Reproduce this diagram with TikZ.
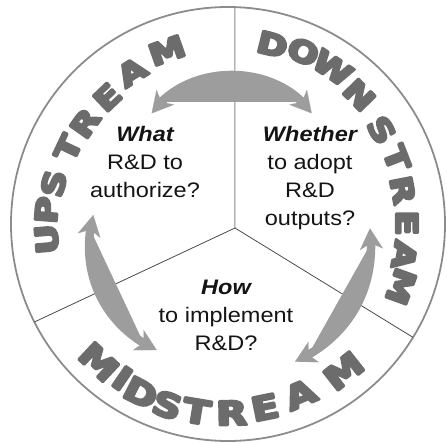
\documentclass[tikz,border=0pt]{standalone}
\usepackage{fontspec}
\setmainfont{Liberation Sans}
\newfontfamily\streamfont{DejaVu Sans}
\usetikzlibrary{arrows.meta,bending}
\definecolor{ringgray}{HTML}{8C8C8C}
\definecolor{arrowgray}{HTML}{9D9D9D}
\definecolor{lettergray}{HTML}{6C6C6C}
\definecolor{divgray}{HTML}{4A4A4A}
\definecolor{vgray}{HTML}{8A8A8A}
\newcommand{\wide}[1]{\scalebox{1.12}[1]{#1}}
\newcommand{\heavy}[1]{\scalebox{1.22}[1]{\special{pdf:literal direct 2 Tr 2.4 w 1 j}#1\special{pdf:literal direct 0 Tr}}}
\begin{document}
\begin{tikzpicture}[x=1pt,y=1pt,
  ringline/.style={draw=ringgray, line width=1.8pt},
  divline/.style={draw=divgray, line width=0.8pt},
  vline/.style={draw=vgray, line width=1pt},
  sletter/.style={font=\streamfont\bfseries\fontsize{30}{30}\selectfont, text=lettergray, inner sep=0pt, anchor=center},
  bigletter/.style={sletter, font=\streamfont\bfseries\fontsize{33}{33}\selectfont},
  cyclearrow/.style={draw=arrowgray, fill=arrowgray, line width=8.5pt, {Stealth[length=21pt,width=23pt,inset=6pt,line width=0.1pt]}-{Stealth[length=21pt,width=23pt,inset=6pt,line width=0.1pt]}},
  qtext/.style={font=\fontsize{21}{28}\selectfont, inner sep=0pt, anchor=base, text=black!92},
  qhead/.style={font=\bfseries\itshape\fontsize{21}{28}\selectfont, inner sep=0pt, anchor=base, text=black!92}
]
\useasboundingbox (-228,-219) rectangle (219,224);

% outer ring
\draw[ringline] (0,0) circle [radius=217];

% dividers
\coordinate (J) at (7,-4);
\coordinate (Ttop) at (88.15:217);
\coordinate (Tleft) at (206.85:217);
\coordinate (Tright) at (-31.5:217);
\draw[vline] (J) -- (Ttop);
\draw[divline] (J) -- (Tleft);
\draw[divline] (J) -- (Tright);

% cycle arrows
\coordinate (A1) at (-76.3,110.7);
\coordinate (B1) at (83.7,110.7);
\coordinate (A2) at (-134.7,9);
\coordinate (B2) at (-71.3,-126);
\coordinate (A3) at (142,-4.3);
\coordinate (B3) at (67,-137.7);
\draw[cyclearrow] (A1) to[bend left=55] (B1);
\draw[cyclearrow] (A2) to[bend right=40] (B2);
\draw[cyclearrow] (A3) to[bend left=36] (B3);

% questions
\node[qhead] (what1) at (-83,82) {\wide{What}};
\node[qtext] (what2) at (-83,54) {\wide{R\&D to}};
\node[qtext] (what3) at (-83,26) {\wide{authorize?}};

\node[qhead] (whe1) at (82,82) {\wide{Whether}};
\node[qtext] (whe2) at (82,54) {\wide{to adopt}};
\node[qtext] (whe3) at (82,26) {\wide{R\&D}};
\node[qtext] (whe4) at (82,-2) {\wide{outputs?}};

\node[qhead] (how1) at (-2,-71) {\wide{How}};
\node[qtext] (how2) at (-2,-99) {\wide{to implement}};
\node[qtext] (how3) at (-2,-127) {\wide{R\&D?}};

% stream labels
\foreach \ch/\ang/\rad [count=\i, evaluate=\ang as \rot using \ang-90] in
  {U/184.8/182, P/175.6/182, S/166.9/179, T/154.6/177, R/144.8/175, E/133.6/175, A/122.3/180, M/109.4/184}
  \node[sletter, rotate=\rot] (up\i) at (\ang:\rad) {\heavy{\ch}};

\foreach \ch/\ang/\rad [count=\i, evaluate=\ang as \rot using \ang-90] in
  {D/76.1/185, O/66.4/188, W/56.2/188, N/44.5/184, S/31.5/180, T/21.3/181, R/11/178, E/0.3/179, A/-10/179, M/-19.9/184}
  \node[sletter, rotate=\rot] (down\i) at (\ang:\rad) {\heavy{\ch}};

\foreach \ch/\ang/\rad [count=\i, evaluate=\ang as \rot using \ang+90] in
  {M/-133.1/189, I/-124.4/187, D/-117.3/190, S/-108.5/191, T/-99.5/190, R/-88.9/189, E/-78.6/187, A/-67/185, M/-51.8/187}
  \node[bigletter, rotate=\rot] (mid\i) at (\ang:\rad) {\heavy{\ch}};
\end{tikzpicture}
\end{document}
